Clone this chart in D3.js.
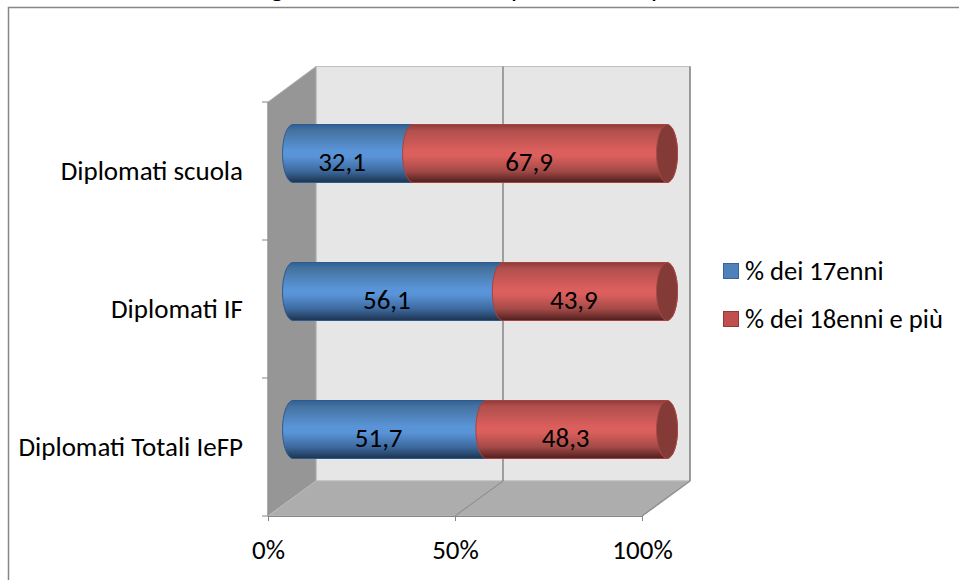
<!DOCTYPE html>
<html><head><meta charset="utf-8">
<script src="https://cdn.jsdelivr.net/npm/d3@7"></script>
<style>html,body{margin:0;background:#fff;overflow:hidden}svg{display:block}text{font-family:Carlito,"Open Sans","Noto Sans",sans-serif;fill:#000}</style>
</head><body><svg width="959" height="580"></svg>
<script>
const categories=["Diplomati scuola","Diplomati IF","Diplomati Totali IeFP"];
const seriesNames=["% dei 17enni","% dei 18enni e più"];
const values17=[32.1,56.1,51.7];
const values18=[67.9,43.9,48.3];
const xTicks=[0,50,100];
const titleFragments=[["g",277],["p",518],["p",658]];
const fmt=v=>String(v).replace(".",",");
const svg=d3.select("svg");
const defs=svg.append("defs");
function grad(id,stops){const g=defs.append("linearGradient").attr("id",id).attr("x1",0).attr("x2",0).attr("y1",0).attr("y2",1);
 stops.forEach(s=>g.append("stop").attr("offset",s[0]).attr("stop-color",s[1]));}
grad("gb",[[0,"#2f5f96"],[.1,"#44729f"],[.45,"#5a94d8"],[.55,"#5a94d8"],[.8,"#3d6a9f"],[1,"#1c3350"]]);
grad("gr",[[0,"#8c3a38"],[.1,"#b04f4d"],[.45,"#db5f5c"],[.55,"#db5f5c"],[.8,"#a44a47"],[1,"#4f1f1e"]]);
svg.append("rect").attr("x",8.5).attr("y",7.5).attr("width",960).attr("height",600).attr("fill","#fff").attr("stroke","#868686").attr("stroke-width",1.5);
svg.selectAll("text.frag").data(titleFragments).join("text").attr("class","frag").attr("x",d=>d[1]).attr("y",-3).attr("text-anchor","middle").attr("font-size",27).text(d=>d[0]);
const x=d3.scaleLinear().domain([0,100]).range([268,642]);
const dx=48,dy=-35; // depth of the 3D floor
const yTop=102,yBot=516,wallTop=66.5;
const y=d3.scaleBand().domain(categories).range([yTop,yBot]);
const pts=a=>a.map(p=>p.join(",")).join(" ");
const wallBot=yBot+dy;
svg.append("rect").attr("x",x(0)+dx).attr("y",wallTop).attr("width",x(100)-x(0)).attr("height",wallBot-wallTop).attr("fill","#e6e6e6").attr("stroke","#c0c0c0");
svg.append("polygon").attr("points",pts([[x(0),yTop],[x(0)+dx,wallTop],[x(0)+dx,wallBot],[x(0),yBot]])).attr("fill","#969696").attr("stroke","#b0b0b0");
svg.append("polygon").attr("points",pts([[x(0),yBot],[x(100),yBot],[x(100)+dx,wallBot],[x(0)+dx,wallBot]])).attr("fill","#adadad").attr("stroke","#b8b8b8");
svg.append("line").attr("x1",x(50)+dx).attr("x2",x(50)+dx).attr("y1",wallTop).attr("y2",wallBot).attr("stroke","#868686").attr("stroke-width",1.5);
svg.append("line").attr("x1",x(50)).attr("x2",x(50)+dx).attr("y1",yBot).attr("y2",wallBot).attr("stroke","#868686");
svg.append("line").attr("x1",x(100)+dx).attr("x2",x(100)+dx).attr("y1",wallTop).attr("y2",wallBot).attr("stroke","#868686").attr("stroke-width",1.5);
svg.append("line").attr("x1",x(100)).attr("x2",x(100)+dx).attr("y1",yBot).attr("y2",wallBot).attr("stroke","#909090").attr("stroke-width",1.5);
const ax=d3.axisBottom(x).tickValues(xTicks).tickFormat(d=>d+"%").tickSize(5).tickPadding(38);
const gx=svg.append("g").attr("transform",`translate(0,${yBot})`).call(ax);
gx.select(".domain").attr("stroke","#868686");gx.selectAll("line").attr("stroke","#868686");
gx.selectAll("text").attr("font-size",27).attr("dy",0);
const edges=[...categories.map(c=>y(c)),yBot];
svg.append("g").selectAll("line").data(edges).join("line").attr("x1",x(0)-6).attr("x2",x(0)).attr("y1",d=>d).attr("y2",d=>d).attr("stroke","#868686");
svg.append("line").attr("x1",x(0)).attr("x2",x(0)).attr("y1",yTop).attr("y2",yBot).attr("stroke","#868686");
svg.append("g").selectAll("text").data(categories).join("text").attr("x",243).attr("y",c=>y(c)+y.bandwidth()/2+1).attr("text-anchor","end").attr("font-size",27).attr("dy","0.3em").text(c=>c);
const bh=58,rx=10.5;
const x0=x(0)+25;
const barW=(x(100)-x(0))/100;
categories.forEach((c,i)=>{
 const m=y(c)+y.bandwidth()/2-17.5, t=m-bh/2, b=m+bh/2;
 const x1=x0+values17[i]*barW, x2=x1+values18[i]*barW;
 const g=svg.append("g");
 g.append("path").attr("d",`M${x0},${t}A${rx},${bh/2} 0 0 0 ${x0},${b}L${x1},${b}L${x1},${t}Z`).attr("fill","url(#gb)").attr("stroke","#2f5a8c");
 g.append("path").attr("d",`M${x1},${t}A${rx},${bh/2} 0 0 0 ${x1},${b}L${x2},${b}A${rx},${bh/2} 0 0 0 ${x2},${t}Z`).attr("fill","url(#gr)").attr("stroke","#a8423f");
 g.append("ellipse").attr("cx",x2).attr("cy",m).attr("rx",rx).attr("ry",bh/2).attr("fill","#843a37").attr("stroke","#a84a47");
 g.append("text").attr("x",(x0+x1)/2-11).attr("y",m+9).attr("text-anchor","middle").attr("dy","0.3em").attr("font-size",27).text(fmt(values17[i]));
 g.append("text").attr("x",(x1+x2)/2-11).attr("y",m+9).attr("text-anchor","middle").attr("dy","0.3em").attr("font-size",27).text(fmt(values18[i]));
});
const lc=["#4f81bd","#c0504d"],ls=["#38649a","#8f3a38"],ly=[271,319];
seriesNames.forEach((n,i)=>{
 svg.append("rect").attr("x",723.5).attr("y",ly[i]-7.5).attr("width",15).attr("height",15).attr("fill",lc[i]).attr("stroke",ls[i]);
 svg.append("text").attr("x",745).attr("y",ly[i]+1).attr("dy","0.3em").attr("font-size",26.6).text(n);
});
</script></body></html>
